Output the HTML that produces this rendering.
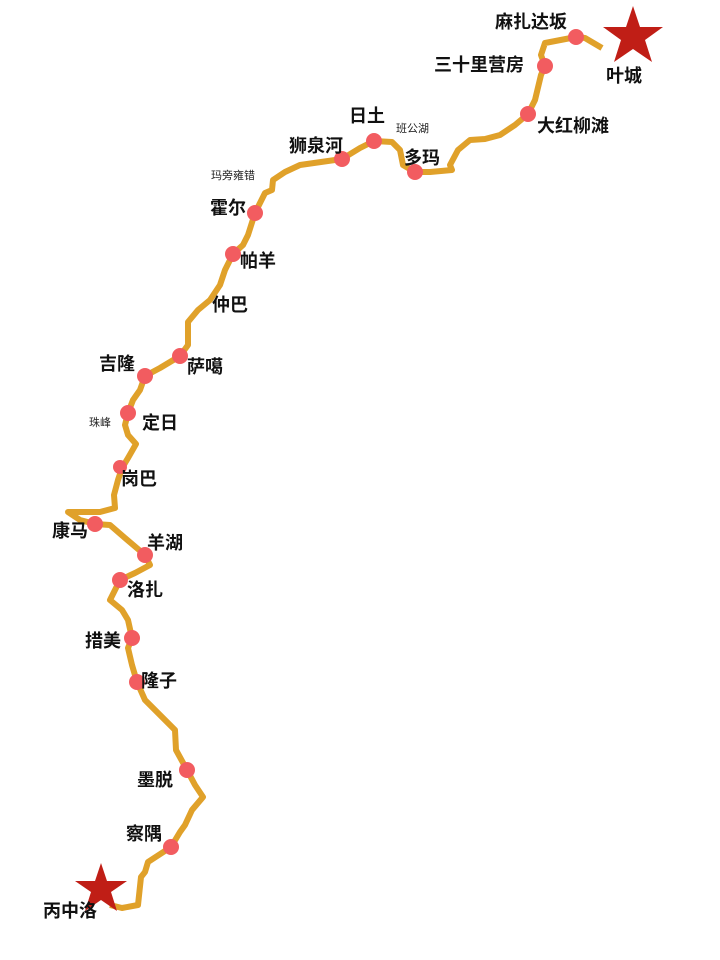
<!DOCTYPE html>
<html><head><meta charset="utf-8"><style>
body{margin:0;background:#fff;width:720px;height:960px;overflow:hidden;position:relative;font-family:"Liberation Sans","Noto Sans CJK SC",sans-serif}
.l{position:absolute;font-size:18px;font-weight:bold;color:#111;white-space:nowrap;line-height:1}
.s{position:absolute;font-size:11px;color:#222;white-space:nowrap;line-height:1}
svg{position:absolute;left:0;top:0}
</style></head><body>
<svg width="720" height="960">
<polyline fill="none" stroke="#E0A12A" stroke-width="6" stroke-linejoin="round" points="602,48 585,38 576,37 545,43 541,55 545,66 541,75 535,100 528,114 515,125 500,135 485,139 470,140 458,150 450,165 452,170 430,172 415,172 403,165 400,150 392,142 374,141 360,148 342,159 300,165 285,172 273,180 272,190 265,193 255,213 248,235 243,245 233,254 225,270 220,285 210,300 198,310 188,322 188,345 180,356 160,368 145,376 140,390 133,400 128,413 125,425 128,435 136,444 128,458 122,468 118,480 114,495 115,508 100,512 68,512 80,520 95,524 110,525 125,538 145,555 150,565 135,573 120,580 115,590 110,600 122,610 128,620 132,638 128,648 132,665 137,682 145,700 165,720 175,730 176,750 187,770 195,785 203,797 192,810 185,825 180,832 171,847 148,862 145,872 141,877 138,905 122,908 110,905"/>
<g fill="#F25C60">
<circle cx="576" cy="37" r="8"/><circle cx="545" cy="66" r="8"/><circle cx="528" cy="114" r="8"/>
<circle cx="415" cy="172" r="8"/><circle cx="374" cy="141" r="8"/><circle cx="342" cy="159" r="8"/>
<circle cx="255" cy="213" r="8"/><circle cx="233" cy="254" r="8"/><circle cx="180" cy="356" r="8"/>
<circle cx="145" cy="376" r="8"/><circle cx="128" cy="413" r="8"/><circle cx="120" cy="467" r="7"/>
<circle cx="95" cy="524" r="8"/><circle cx="145" cy="555" r="8"/><circle cx="120" cy="580" r="8"/>
<circle cx="132" cy="638" r="8"/><circle cx="137" cy="682" r="8"/><circle cx="187" cy="770" r="8"/>
<circle cx="171" cy="847" r="8"/>
</g>
<polygon fill="#C01E16" points="633,6 640,27 663,27 645,40 652,62 633,49 614,62 621,40 603,27 626,27"/>
<polygon fill="#C01E16" points="101,863 107,881 127,881 111,892 117,911 101,900 85,911 91,892 75,881 95,881"/>
</svg>
<div class="l" style="left:495px;top:13px">麻扎达坂</div>
<div class="l" style="left:434px;top:56px">三十里营房</div>
<div class="l" style="left:606px;top:67px">叶城</div>
<div class="l" style="left:537px;top:117px">大红柳滩</div>
<div class="s" style="left:396px;top:124px">班公湖</div>
<div class="l" style="left:404px;top:149px">多玛</div>
<div class="l" style="left:349px;top:107px">日土</div>
<div class="l" style="left:289px;top:137px">狮泉河</div>
<div class="s" style="left:211px;top:171px">玛旁雍错</div>
<div class="l" style="left:210px;top:199px">霍尔</div>
<div class="l" style="left:240px;top:252px">帕羊</div>
<div class="l" style="left:212px;top:296px">仲巴</div>
<div class="l" style="left:187px;top:358px">萨噶</div>
<div class="l" style="left:99px;top:355px">吉隆</div>
<div class="s" style="left:89px;top:418px">珠峰</div>
<div class="l" style="left:142px;top:414px">定日</div>
<div class="l" style="left:121px;top:470px">岗巴</div>
<div class="l" style="left:52px;top:522px">康马</div>
<div class="l" style="left:147px;top:534px">羊湖</div>
<div class="l" style="left:127px;top:581px">洛扎</div>
<div class="l" style="left:85px;top:632px">措美</div>
<div class="l" style="left:141px;top:672px">隆子</div>
<div class="l" style="left:137px;top:771px">墨脱</div>
<div class="l" style="left:126px;top:825px">察隅</div>
<div class="l" style="left:43px;top:902px">丙中洛</div>
</body></html>
